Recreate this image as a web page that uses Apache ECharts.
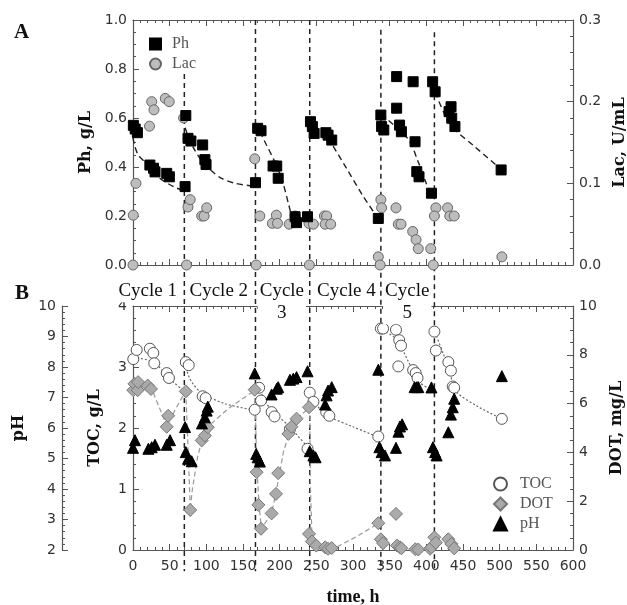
<!DOCTYPE html>
<html>
<head>
<meta charset="utf-8">
<script src="https://cdn.jsdelivr.net/npm/echarts@6/dist/echarts.min.js"></script>
<style>
  html, body { margin: 0; padding: 0; background: #fff; }
  #chart { width: 627px; height: 605px; }
</style>
</head>
<body>
<div id="chart"></div>
<script>
// panel A: phenol (g/L) and laccase (U/mL) vs time (h)
const phPts = [[0.5,0.57],[3,0.555],[6,0.54],[23,0.408],[28,0.395],[30,0.38],[46,0.374],[49.6,0.36],[71,0.32],[72,0.61],[75,0.517],[79,0.506],[95,0.49],[98,0.43],[99.6,0.41],[167,0.336],[170,0.558],[174.6,0.548],[191,0.404],[196,0.404],[198,0.354],[221,0.197],[223,0.173],[238,0.197],[242,0.585],[244.6,0.565],[247,0.537],[263,0.54],[266,0.53],[271,0.51],[334.5,0.19],[338,0.612],[339,0.565],[342,0.551],[359.5,0.769],[359.5,0.64],[363.5,0.571],[366,0.544],[382,0.748],[384.6,0.503],[387,0.381],[390,0.36],[407,0.293],[408.6,0.748],[412,0.707],[431,0.626],[433.7,0.646],[434.6,0.599],[439,0.565],[502,0.388]]
const lacPts = [[0,0],[0.4,0.061],[4,0.1],[22.5,0.17],[25.5,0.2],[28.6,0.19],[44,0.204],[49.4,0.2],[69,0.18],[73,0],[75,0.071],[78,0.08],[93.7,0.06],[97,0.06],[100.5,0.07],[166,0.13],[168,0],[173,0.06],[190,0.051],[195.5,0.061],[197,0.051],[213,0.05],[221,0.06],[240.5,0],[240,0.051],[246,0.05],[261,0.06],[264,0.06],[262,0.05],[269.6,0.05],[334.5,0.01],[337,0],[338,0.08],[339,0.07],[358.6,0.07],[361.8,0.05],[365.5,0.05],[381.4,0.041],[386,0.031],[389,0.02],[406,0.02],[409.5,0],[413,0.07],[411,0.06],[429,0.07],[432,0.06],[438,0.06],[503,0.01]]
// dashed trend lines for Ph, one per cycle
const phFits = [
  [[0,0.52],[2,0.49],[7,0.45],[16,0.42],[34,0.36],[57,0.317],[69,0.305]],
  [[71,0.56],[76,0.52],[84,0.47],[95,0.42],[105,0.39],[120,0.355],[140,0.333],[165,0.322]],
  [[173,0.545],[182,0.49],[192,0.43],[203,0.35],[212,0.25],[217,0.19]],
  [[266,0.52],[291,0.395],[314,0.28],[333,0.195]],
  [[338,0.615],[375,0.515],[389,0.42],[400,0.333],[407,0.29]],
  [[412,0.705],[425,0.615],[437,0.558],[466,0.483],[502,0.39]]
]

// panel B: TOC (g/L), DOT (mg/L), pH vs time (h)
const tocPts = [[0.4,3.13],[5,3.28],[23,3.30],[27.7,3.23],[29,3.06],[46,2.90],[49,2.82],[72,3.08],[76,3.03],[95,2.52],[99,2.49],[166,2.30],[172,2.66],[174.6,2.45],[189,2.26],[193,2.19],[214,1.98],[238,1.66],[241,2.58],[246,2.43],[263.5,2.26],[267.7,2.2],[334.5,1.86],[338,3.63],[341,3.63],[358.6,3.61],[361.8,3.01],[363,3.44],[365.5,3.35],[382,2.95],[385.5,2.9],[388,2.82],[411,3.58],[413,3.27],[430,3.08],[433.5,2.94],[436,2.68],[438,2.66],[503,2.15]]
const dotPts = [[0.4,6.55],[2,6.81],[6.4,6.55],[7,6.88],[20,6.74],[24.5,6.6],[46,5.05],[48,5.5],[72,6.5],[78,1.64],[93.7,4.49],[98,4.69],[102,5.03],[166,6.57],[168.6,3.19],[171,1.85],[174.6,0.87],[189,1.5],[195,2.3],[198,3.15],[212,4.76],[216,5.05],[223,5.38],[240,5.85],[240,0.66],[244,0.35],[250,0.18],[262,0.11],[266,0.05],[271,0.08],[334.5,1.1],[338,0.44],[341,0.28],[358.6,1.48],[360,0.18],[364,0.11],[366,0.07],[385,0.03],[389,0.02],[405,0.05],[407,0.11],[411,0.52],[413,0.3],[430,0.44],[434,0.25],[438,0.07]]
const phValPts = [[0,5.35],[2.7,5.6],[21,5.32],[25.5,5.37],[30,5.45],[46,5.45],[50.5,5.6],[71,6.03],[72,5.21],[75,4.99],[80,4.91],[94,6.15],[98,6.35],[100.5,6.57],[102,6.7],[166,7.79],[168,5.15],[170,5.04],[173,4.9],[189,7.1],[196,7.29],[198,7.34],[214,7.58],[218.6,7.62],[223,7.67],[238,7.86],[241,5.24],[246,5.1],[249,5.04],[262,6.77],[264,7.07],[266,7.23],[271,7.34],[334.5,7.91],[336,5.37],[339,5.21],[343.6,5.1],[358.6,5.35],[362,5.88],[364,6.05],[367,6.12],[384,7.34],[387,7.34],[389,7.34],[407,7.33],[409,5.37],[412,5.21],[414,5.1],[430,5.86],[433.5,6.44],[436,6.68],[438,6.96],[503,7.7]]
const tocFits = [
  [[0,3.16],[28,3.08],[48,2.83],[69,2.61]],
  [[71,3.05],[76,2.85],[82,2.72],[94,2.57],[125,2.4],[166,2.29]],
  [[171,2.67],[180,2.45],[189,2.29],[212,2.04],[240,1.66]],
  [[242,2.57],[250,2.38],[266,2.2],[300,2.02],[335,1.85]],
  [[340,3.6],[360,3.45],[375,3.1],[391,2.75],[406,2.63]],
  [[412,3.57],[423,3.22],[432,2.95],[439,2.62],[469,2.36],[503,2.15]]
]
const dotFits = [
  [[0,6.74],[25,6.65],[32,6.13],[46,5.1],[57,5.72],[71,6.47]],
  [[72,6.5],[76,3.5],[78,1.65],[81,2.5],[88,3.8],[94,4.5],[102,5.05],[130,5.8],[166,6.54]],
  [[166,6.54],[169,3.3],[172,1.8],[175,0.87],[189,1.5],[196,2.5],[205,4.0],[215,5.0],[226,5.45],[241,5.85]],
  [[241,5.85],[242,2.5],[244,0.6],[252,0.2],[266,0.05],[273,0.05],[305,0.55],[335,1.1]]
]

// cycle boundaries (h) and where each dashed divider starts in panel A (g/L)
const cycleBounds = [70, 167, 241, 338, 411]
const boundTop = [0.78, 1.0, 1.0, 0.96, 0.95]
const cycleLabels = ['Cycle 1', 'Cycle 2', 'Cycle\n3', 'Cycle 4', 'Cycle\n5']

const tickFont = { fontFamily: 'DejaVu Sans', fontSize: 14, color: '#333' }
const nameFont = { fontFamily: 'DejaVu Serif', fontWeight: 'bold', fontSize: 16, color: '#111' }
const axisCol = '#555'

function frameAxis(extra) {
  return Object.assign({
    axisLine: { show: true, onZero: false, lineStyle: { color: axisCol, width: 1.2 } },
    axisTick: { show: true, inside: true, length: 6, lineStyle: { color: axisCol } },
    minorTick: { show: true, splitNumber: 5, length: 3, lineStyle: { color: axisCol } },
    splitLine: { show: false },
    axisLabel: Object.assign({ margin: 6 }, tickFont)
  }, extra)
}

function scatter(name, data, xi, yi, symbol, size, color, border) {
  return {
    type: 'scatter', name, data, xAxisIndex: xi, yAxisIndex: yi,
    symbol, symbolSize: size, clip: false, z: 5,
    itemStyle: { color, borderColor: border, borderWidth: 1, opacity: 1 }
  }
}

function fitLine(data, xi, yi, color, dash, width, smooth) {
  return {
    type: 'line', data, xAxisIndex: xi, yAxisIndex: yi, symbol: 'none',
    smooth, silent: true, z: 3,
    lineStyle: { color, type: dash, width }
  }
}

const chart = echarts.init(document.getElementById('chart'))

const series = [
  ...phFits.map(d => fitLine(d, 0, 0, '#222', [6, 4], 1.4, 0.3)),
  ...tocFits.map(d => fitLine(d, 2, 2, '#666', [2, 2], 1.2, 0.3)),
  ...dotFits.map(d => fitLine(d, 2, 4, '#999', [5, 3], 1.2, false)),
  scatter('Lac', lacPts, 0, 1, 'circle', 10, '#bdbdbd', '#666'),
  scatter('Ph', phPts, 0, 0, 'rect', 10, '#000', '#000'),
  scatter('TOC', tocPts, 2, 2, 'circle', 11, '#fff', '#555'),
  scatter('DOT', dotPts, 2, 4, 'diamond', 13, '#aaa', '#777'),
  scatter('pH', phValPts, 2, 3, 'triangle', 11, '#000', '#000')
]

chart.setOption({
  animation: false,
  backgroundColor: '#fff',
  grid: [
    { left: 133, right: 54, top: 20, height: 245, outerBoundsMode: 'none' },
    { left: 133, right: 54, top: 306, height: 244, outerBoundsMode: 'none' }
  ],
  legend: [
    {
      data: ['Ph', 'Lac'], orient: 'vertical', left: 144, top: 31, itemGap: 4,
      itemWidth: 11, itemHeight: 11,
      textStyle: { fontFamily: 'Liberation Serif', fontSize: 16, color: '#555', padding: [0, 0, 0, 6] }
    },
    {
      data: ['TOC', 'DOT', 'pH'], orient: 'vertical', left: 488, top: 471, itemGap: 4,
      itemWidth: 13, itemHeight: 13,
      textStyle: { fontFamily: 'Liberation Serif', fontSize: 16, color: '#555', padding: [0, 0, 0, 8] }
    }
  ],
  xAxis: [
    frameAxis({ gridIndex: 0, type: 'value', min: 0, max: 600, interval: 50, position: 'bottom', axisLabel: { show: false } }),
    frameAxis({ gridIndex: 0, type: 'value', min: 0, max: 600, interval: 50, position: 'top', axisLabel: { show: false } }),
    frameAxis({
      gridIndex: 1, type: 'value', min: 0, max: 600, interval: 50, position: 'bottom',
      name: 'time, h', nameLocation: 'middle', nameGap: 38,
      nameTextStyle: Object.assign({}, nameFont, { fontFamily: 'Liberation Serif', fontSize: 18 }),
      axisLabel: Object.assign({ margin: 9 }, tickFont)
    }),
    frameAxis({ gridIndex: 1, type: 'value', min: 0, max: 600, interval: 50, position: 'top', axisLabel: { show: false } })
  ],
  yAxis: [
    frameAxis({
      gridIndex: 0, type: 'value', min: 0, max: 1, interval: 0.2, position: 'left',
      minorTick: { show: true, splitNumber: 4, length: 3, lineStyle: { color: axisCol } },
      name: 'Ph, g/L', nameLocation: 'middle', nameGap: 36, nameTextStyle: nameFont,
      axisLabel: Object.assign({ margin: 6, formatter: v => v.toFixed(1) }, tickFont)
    }),
    frameAxis({
      gridIndex: 0, type: 'value', min: 0, max: 0.3, interval: 0.1, position: 'right',
      name: 'Lac, U/mL', nameLocation: 'middle', nameGap: 34, nameTextStyle: nameFont,
      axisLabel: Object.assign({ margin: 6, formatter: v => v.toFixed(1) }, tickFont)
    }),
    frameAxis({
      gridIndex: 1, type: 'value', min: 0, max: 4, interval: 1, position: 'left',
      name: 'TOC, g/L', nameLocation: 'middle', nameGap: 30, nameTextStyle: nameFont
    }),
    frameAxis({
      gridIndex: 1, type: 'value', min: 2, max: 10, interval: 1, position: 'left', offset: 71,
      name: 'pH', nameLocation: 'middle', nameGap: 23, nameTextStyle: nameFont
    }),
    frameAxis({
      gridIndex: 1, type: 'value', min: 0, max: 10, interval: 2, position: 'right',
      minorTick: { show: true, splitNumber: 4, length: 3, lineStyle: { color: axisCol } },
      name: 'DOT, mg/L', nameLocation: 'middle', nameGap: 36, nameTextStyle: nameFont
    })
  ],
  series
})

// dividers between cycles run through both panels; ends are taken from the axes
const labelX = [20, 117, 203, 291, 374]
const graphics = []
cycleBounds.forEach((h, i) => {
  const top = chart.convertToPixel({ xAxisIndex: 0, yAxisIndex: 0 }, [h, boundTop[i]])
  const bot = chart.convertToPixel({ xAxisIndex: 2, yAxisIndex: 2 }, [h, -0.35])
  graphics.push({
    type: 'line', z: 2, silent: true,
    shape: { x1: top[0], y1: top[1], x2: bot[0], y2: bot[1] },
    style: { stroke: '#222', lineWidth: 1.5, lineDash: [5, 4] }
  })
})
const labelY = chart.convertToPixel({ xAxisIndex: 2, yAxisIndex: 2 }, [0, 4.24])[1]
cycleLabels.forEach((t, i) => {
  const x = chart.convertToPixel({ xAxisIndex: 2, yAxisIndex: 2 }, [labelX[i], 0])[0]
  graphics.push({
    type: 'text', z: 10, x, y: labelY - 11, silent: true,
    style: {
      text: t, align: 'center', verticalAlign: 'top',
      font: '19px "Liberation Serif"', fill: '#111', lineHeight: 22,
      backgroundColor: '#fff', padding: [0, 2]
    }
  })
})
graphics.push(
  { type: 'text', left: 14, top: 22, style: { text: 'A', font: 'bold 21px "Liberation Serif"', fill: '#111' } },
  { type: 'text', left: 15, top: 283, style: { text: 'B', font: 'bold 21px "Liberation Serif"', fill: '#111' } }
)
chart.setOption({ graphic: graphics })
</script>
</body>
</html>
